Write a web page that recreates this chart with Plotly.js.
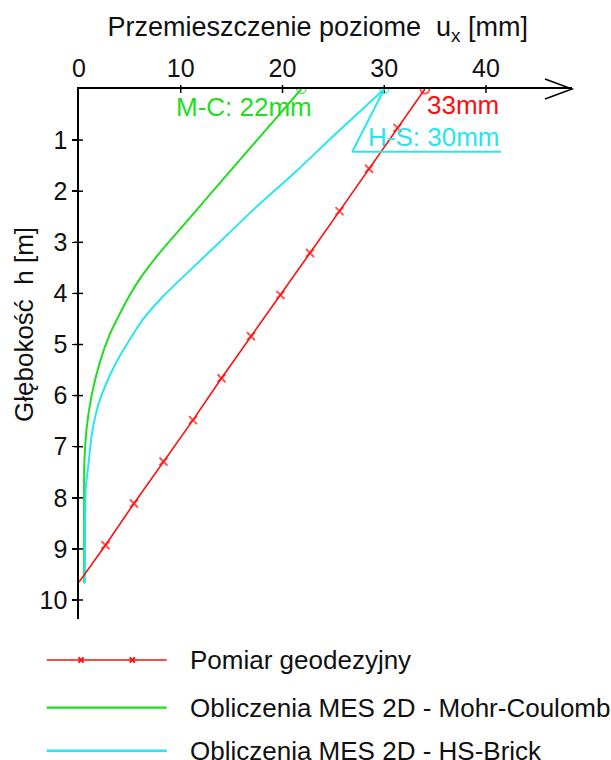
<!DOCTYPE html>
<html>
<head>
<meta charset="utf-8">
<script src="https://cdn.plot.ly/plotly-3.0.1.min.js"></script>
<style>html,body{margin:0;padding:0;background:#fff;}#chart{width:611px;height:760px;}</style>
</head>
<body>
<div id="chart"></div>
<script>
// ---- data ----
const depthRed = [0, 0.76, 1.56, 2.39, 3.21, 4.03, 4.84, 5.66, 6.48, 7.29, 8.11, 8.93, 9.65];
const uxRed    = [34.0, 31.3, 28.5, 25.6, 22.7, 19.8, 16.9, 14.0, 11.2, 8.3, 5.4, 2.6, 0];

const depthMC = [0, 1.0, 2.0, 2.37, 2.76, 3.22, 3.74, 4.06, 4.52, 4.81, 5.34, 5.99, 6.64, 7.36, 8.5, 9.67];
const uxMC    = [21.85, 17.5, 13.15, 11.55, 9.85, 7.86, 5.9, 4.91, 3.7, 3.0, 2.06, 1.25, 0.75, 0.52, 0.5, 0.5];

const depthHS = [0, 0.9, 1.6, 2.37, 3.02, 3.54, 4.06, 4.52, 5.21, 5.66, 6.18, 6.77, 7.36, 7.81, 8.5, 9.67];
const uxHS    = [30.0, 25.1, 21.4, 17.1, 13.7, 10.95, 8.25, 6.25, 4.05, 2.9, 1.9, 1.25, 0.92, 0.66, 0.6, 0.58];

const xTicks = [0, 10, 20, 30, 40];
const yTicks = [1, 2, 3, 4, 5, 6, 7, 8, 9, 10];
const seriesNames = ['Pomiar geodezyjny', 'Obliczenia MES 2D - Mohr-Coulomb', 'Obliczenia MES 2D - HS-Brick'];
const labelMC = 'M-C: 22mm', labelRed = '33mm', labelHS = 'H-S: 30mm';
const titleX = 'Przemieszczenie poziome\u00a0\u00a0u<sub>x</sub>\u00a0[mm]';
const titleY = 'Głębokość\u00a0\u00a0h\u00a0[m]';

// ---- styling ----
const RED = '#ff0d0d', GREEN = '#22dc22', CYAN = '#28e6ee';
const FONT = 'Liberation Sans, Arial, sans-serif';
const L = 79, T = 89, W = 493, H = 530;
const px2x = p => (p - L) / W;
const px2y = p => (T + H - p) / H;

function markerSizes(n, first, rest, last) {
  return Array.from({length: n}, (_, i) => i === 0 ? first : (i === n - 1 ? last : rest));
}
function markerSymbols(n) {
  return Array.from({length: n}, (_, i) => i === 0 ? 'circle-open' : 'x-thin-open');
}

const traces = [
  {x: uxMC, y: depthMC, mode: 'lines+markers', name: seriesNames[1],
   line: {color: GREEN, width: 2, shape: 'spline', smoothing: 0.6},
   marker: {symbol: 'circle-open', size: markerSizes(uxMC.length, 9, 0, 0), color: GREEN, line: {color: GREEN, width: 1.5}}},
  {x: uxHS, y: depthHS, mode: 'lines+markers', name: seriesNames[2],
   line: {color: CYAN, width: 2, shape: 'spline', smoothing: 0.6},
   marker: {symbol: 'circle-open', size: markerSizes(uxHS.length, 9, 0, 0), color: CYAN, line: {color: CYAN, width: 1.5}}},
  {x: uxRed, y: depthRed, mode: 'lines+markers', name: seriesNames[0],
   line: {color: RED, width: 1.6},
   marker: {symbol: markerSymbols(uxRed.length), size: markerSizes(uxRed.length, 9, 8, 0), color: RED, line: {color: RED, width: 2}}}
];

const shapes = [];
// arrow head at end of x axis
shapes.push({type: 'path', xref: 'paper', yref: 'paper', xsizemode: 'pixel', ysizemode: 'pixel',
  xanchor: 1, yanchor: 1, path: 'M -27 10 L 0 0 L -27 -10', line: {color: '#000', width: 1.6}});
// crossing tick marks
xTicks.slice(1).forEach(t => shapes.push({type: 'line', xref: 'x', x0: t, x1: t, yref: 'paper', ysizemode: 'pixel',
  yanchor: 1, y0: 4, y1: -4, line: {color: '#000', width: 1.5}}));
yTicks.forEach(t => shapes.push({type: 'line', yref: 'y', y0: t, y1: t, xref: 'paper', xsizemode: 'pixel',
  xanchor: 0, x0: -5, x1: 4, line: {color: '#000', width: 1.5}}));
// H-S callout leader
shapes.push({type: 'line', xref: 'x', yref: 'y', x0: uxHS[0], y0: depthHS[0], x1: 26.86, y1: 1.227, line: {color: CYAN, width: 2}});
shapes.push({type: 'line', xref: 'x', yref: 'y', x0: 26.86, y0: 1.227, x1: 41.47, y1: 1.227, line: {color: CYAN, width: 2}});

// custom legend
const legY = [660, 707.7, 750.7];
const legCol = [RED, GREEN, CYAN];
const legW = [1.6, 2.2, 2.4];
for (let i = 0; i < 3; i++) {
  shapes.push({type: 'line', xref: 'paper', yref: 'paper', x0: px2x(46.7), x1: px2x(166.7), y0: px2y(legY[i]), y1: px2y(legY[i]),
    line: {color: legCol[i], width: legW[i]}});
}
[81, 132.3].forEach(cx => {
  const d = 2.6;
  shapes.push({type: 'path', xref: 'paper', yref: 'paper',
    path: `M ${px2x(cx-d)} ${px2y(660-d)} L ${px2x(cx+d)} ${px2y(660+d)} M ${px2x(cx-d)} ${px2y(660+d)} L ${px2x(cx+d)} ${px2y(660-d)}`,
    line: {color: RED, width: 2}});
});

const annotations = [
  {text: labelMC, xref: 'x', yref: 'y', x: 16.2, y: 0.35, showarrow: false, font: {family: FONT, size: 26, color: GREEN}, xanchor: 'center', yanchor: 'middle'},
  {text: labelRed, xref: 'x', yref: 'y', x: 34.0, y: 0.32, showarrow: false, font: {family: FONT, size: 26, color: RED}, xanchor: 'left', yanchor: 'middle'},
  {text: labelHS, xref: 'x', yref: 'y', x: 34.8, y: 0.94, showarrow: false, font: {family: FONT, size: 26, color: CYAN}, xanchor: 'center', yanchor: 'middle'},
  {text: titleY, xref: 'paper', yref: 'paper', x: px2x(24), y: px2y(325), textangle: -90, showarrow: false,
   xanchor: 'center', yanchor: 'middle', font: {family: FONT, size: 26, color: '#111'}}
];
for (let i = 0; i < 3; i++) {
  annotations.push({text: seriesNames[i], xref: 'paper', yref: 'paper', x: px2x(188), y: px2y(legY[i]),
    showarrow: false, xanchor: 'left', yanchor: 'middle', font: {family: FONT, size: 26, color: '#111'}});
}

const layout = {
  width: 611, height: 760,
  margin: {l: L, r: 611 - L - W, t: T, b: 760 - T - H, pad: 0},
  paper_bgcolor: '#fff', plot_bgcolor: '#fff',
  showlegend: false,
  font: {family: FONT, color: '#111'},
  title: {text: titleX, font: {family: FONT, size: 27, color: '#111'},
          x: 0.52, xanchor: 'center', xref: 'container', y: 1 - 27 / 760, yanchor: 'middle', yref: 'container'},
  xaxis: {range: [0, W / 10.175], side: 'top', showline: true, linecolor: '#000', linewidth: 1.6,
          showgrid: false, zeroline: false, tickvals: xTicks, ticktext: xTicks.map(String),
          ticks: '', tickfont: {family: FONT, size: 25, color: '#111'}, fixedrange: true},
  yaxis: {range: [H / 51.1, 0], showline: true, linecolor: '#000', linewidth: 1.6,
          showgrid: false, zeroline: false, tickvals: yTicks, ticktext: yTicks.map(String),
          ticks: 'outside', ticklen: 5, tickwidth: 1.5, tickcolor: '#000',
          tickfont: {family: FONT, size: 25, color: '#111'},
          fixedrange: true},
  shapes: shapes,
  annotations: annotations
};

Plotly.newPlot('chart', traces, layout, {displayModeBar: false, staticPlot: true});
</script>
</body>
</html>
